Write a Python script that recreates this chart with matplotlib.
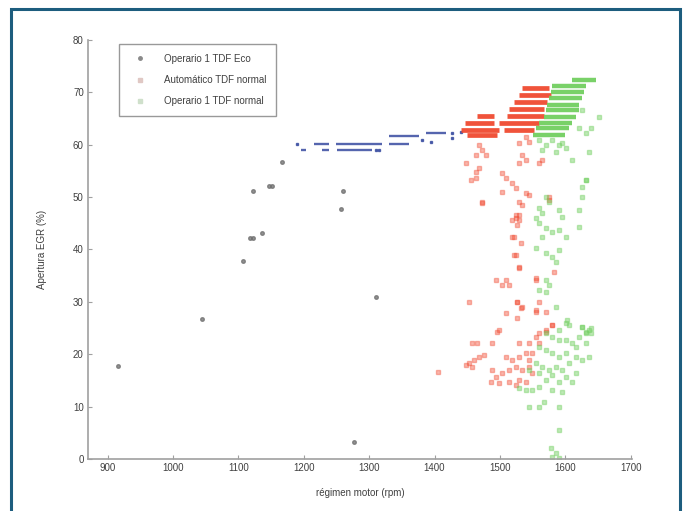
import matplotlib
matplotlib.use('Agg')
import matplotlib.pyplot as plt
from matplotlib.patches import Rectangle
from matplotlib.lines import Line2D

plt.rcParams['font.family'] = ['Liberation Sans', 'DejaVu Sans']

labels = ['Operario 1 TDF Eco', 'Automático TDF normal', 'Operario 1 TDF normal']

# isolated points of the Eco run (grey)
gray_x = [1167, 1147, 1152, 1122, 1260, 1257, 1136, 1118, 1122, 1107, 1310, 1045, 916, 1277]
gray_y = [56.6, 52.1, 52.1, 51.1, 51.1, 47.8, 43.2, 42.1, 42.1, 37.8, 31.0, 26.7, 17.7, 3.2]

# dense Eco streaks (blue): level, start rpm, end rpm
eco_row_y = [62.2, 61.6, 60.1, 60.1, 60.1, 59.0, 59.0, 59.0]
eco_row_x0 = [1387, 1331, 1216, 1250, 1331, 1228, 1251, 1196]
eco_row_x1 = [1418, 1376, 1239, 1320, 1361, 1239, 1305, 1204]
eco_x = [1190, 1381, 1427, 1427, 1311, 1315, 1440, 1395]
eco_y = [60.1, 60.9, 61.3, 62.2, 59.0, 59.0, 62.5, 60.5]

# Automático TDF normal (red)
auto_row_y = [70.8, 69.5, 68.1, 66.8, 65.5, 65.5, 64.1, 64.1, 62.8, 62.8, 61.8]
auto_row_x0 = [1534, 1529, 1521, 1514, 1465, 1511, 1447, 1498, 1440, 1506, 1450]
auto_row_x1 = [1575, 1578, 1572, 1567, 1491, 1567, 1491, 1560, 1498, 1552, 1495]
auto_x = [1473, 1524, 1529, 1526, 1521, 1524, 1529, 1494, 1509, 1503,
          1514, 1555, 1453, 1526, 1534, 1555, 1509, 1526, 1579, 1495,
          1570, 1457, 1465, 1488, 1529, 1544, 1555, 1560, 1476, 1468,
          1460, 1453, 1448, 1457, 1509, 1518, 1529, 1540, 1549, 1544,
          1488, 1494, 1503, 1514, 1524, 1534, 1544, 1549, 1486, 1498,
          1514, 1529, 1540, 1524,
          1468, 1473, 1463, 1479, 1448, 1468, 1463, 1456, 1463, 1503,
          1509, 1534, 1540, 1529, 1540, 1544, 1529, 1518, 1524, 1503,
          1540, 1544, 1560, 1564, 1473, 1529, 1534, 1575, 1575, 1524,
          1529, 1518,
          1518, 1532, 1521, 1529, 1582, 1555, 1526, 1560, 1532, 1555,
          1570, 1579, 1570, 1560, 1498, 1405]
auto_y = [48.9, 46.6, 45.6, 44.7, 42.4, 38.9, 36.5, 34.2, 34.2, 33.2,
          33.2, 34.2, 30.0, 30.0, 29.0, 28.1, 27.9, 26.9, 25.6, 24.2,
          24.2, 22.1, 22.1, 22.1, 22.1, 22.1, 23.3, 22.1, 19.8, 19.5,
          18.9, 18.3, 17.9, 17.6, 19.5, 18.9, 19.5, 20.2, 20.2, 18.9,
          17.0, 15.6, 16.4, 17.0, 17.6, 17.0, 17.6, 16.4, 14.7, 14.5,
          14.7, 15.1, 14.7, 14.1,
          59.9, 59.0, 58.0, 58.0, 56.5, 55.5, 54.8, 53.2, 53.6, 54.6,
          53.6, 58.0, 57.1, 56.5, 61.5, 60.5, 60.3, 52.7, 51.7, 51.0,
          50.8, 50.4, 56.5, 57.1, 49.0, 49.0, 48.5, 50.0, 49.4, 46.0,
          46.6, 45.6,
          42.4, 41.2, 38.9, 36.6, 35.7, 34.5, 30.0, 30.0, 28.8, 28.4,
          28.1, 25.6, 24.6, 24.0, 24.6, 16.6]

# Operario 1 TDF normal (green)
op_row_y = [72.3, 71.2, 70.0, 68.9, 67.6, 66.6, 65.3, 64.1, 63.2, 61.8]
op_row_x0 = [1610, 1579, 1578, 1575, 1572, 1570, 1567, 1560, 1555, 1550]
op_row_x1 = [1647, 1631, 1628, 1625, 1621, 1621, 1616, 1610, 1605, 1600]
op_x = [1560, 1570, 1579, 1590, 1601, 1564, 1585, 1595, 1631, 1631,
        1625, 1625, 1621, 1590, 1595, 1570, 1575, 1560, 1564, 1555,
        1560, 1570, 1579, 1590, 1601, 1564, 1621,
        1555, 1570, 1579, 1585, 1590, 1570, 1575, 1560, 1570, 1585,
        1602, 1605, 1625, 1640, 1631,
        1570, 1579, 1590, 1601, 1610, 1621, 1631, 1636, 1625, 1601,
        1590, 1616, 1631, 1640,
        1560, 1570, 1579, 1590, 1601, 1616, 1625, 1636,
        1555, 1564, 1575, 1585, 1595, 1605, 1616, 1601, 1579, 1560,
        1544, 1570, 1590, 1610,
        1529, 1540, 1549, 1560, 1579, 1595, 1567, 1544, 1560, 1590,
        1590, 1578, 1585, 1579, 1590,
        1625, 1651, 1639, 1621, 1631, 1610, 1636]
op_y = [60.9, 59.9, 60.9, 59.9, 59.4, 59.0, 58.6, 60.3, 62.2, 53.2,
        51.9, 50.0, 47.5, 47.5, 46.2, 50.0, 49.0, 47.9, 46.9, 46.0,
        45.0, 44.1, 43.3, 43.7, 42.4, 42.4, 44.3,
        40.3, 39.3, 38.5, 37.6, 39.9, 34.2, 33.2, 32.3, 31.9, 29.0,
        26.5, 25.6, 25.2, 25.0, 24.2,
        24.0, 23.3, 22.7, 22.7, 22.1, 23.3, 24.0, 24.6, 25.2, 26.0,
        24.6, 21.4, 22.1, 24.0,
        21.4, 20.8, 20.2, 19.5, 20.2, 19.5, 18.9, 19.5,
        18.3, 17.6, 17.0, 17.6, 17.0, 18.3, 16.4, 15.6, 16.0, 16.4,
        17.0, 15.1, 14.7, 14.7,
        13.5, 13.2, 13.2, 13.7, 13.2, 12.8, 10.9, 9.9, 9.9, 9.9,
        5.5, 2.1, 1.1, 0.4, 0.2,
        66.6, 65.3, 63.2, 63.2, 53.2, 57.0, 58.6]

x_ticks = [900, 1000, 1100, 1200, 1300, 1400, 1500, 1600, 1700]
y_ticks = [0, 10, 20, 30, 40, 50, 60, 70, 80]

fig = plt.figure(figsize=(6.87, 5.11), dpi=100)
ax = fig.add_axes([0.128, 0.102, 0.792, 0.82])

red = '#f04a30'
green = '#72cf60'
blue = '#2a3f9a'

# streaks
ax.hlines(eco_row_y, eco_row_x0, eco_row_x1, colors=blue, linewidth=1.7, alpha=0.8)
ax.plot(eco_x, eco_y, 's', color=blue, markersize=1.8, alpha=0.75, linestyle='none')
ax.hlines(auto_row_y, auto_row_x0, auto_row_x1, colors=red, linewidth=3.4, alpha=0.95)
ax.plot(auto_x, auto_y, 's', color=red, markersize=2.6, alpha=0.4, linestyle='none')
ax.hlines(op_row_y, op_row_x0, op_row_x1, colors=green, linewidth=3.2, alpha=0.95)
ax.plot(op_x, op_y, 's', color=green, markersize=2.6, alpha=0.45, linestyle='none')
ax.plot(gray_x, gray_y, 'o', color='#6e6e6e', markersize=2.6, alpha=0.75, linestyle='none')

ax.set_xlim(870, 1702)
ax.set_ylim(0, 80)
ax.set_xticks(x_ticks)
ax.set_yticks(y_ticks)
for s in ['top', 'right']:
    ax.spines[s].set_visible(False)
for s in ['left', 'bottom']:
    ax.spines[s].set_color('#a0a0a0')
    ax.spines[s].set_linewidth(1.2)
ax.tick_params(direction='in', length=3, color='#a0a0a0', labelsize=7, labelcolor='#404040', pad=3)
ax.set_xlabel('régimen motor (rpm)', fontsize=7, color='#404040', labelpad=11)
ax.set_ylabel('Apertura EGR (%)', fontsize=7, color='#404040', labelpad=19)

handles = [Line2D([], [], marker='o', color='#8a8a8a', linestyle='none', markersize=2.5),
           Line2D([], [], marker='s', color='#e0c8c4', linestyle='none', markersize=3),
           Line2D([], [], marker='s', color='#cfe0cb', linestyle='none', markersize=3)]
leg = ax.legend(handles, labels, loc='upper left', bbox_to_anchor=(0.058, 0.99),
                fontsize=7, frameon=True, fancybox=False, borderpad=1.0,
                labelspacing=1.15, handletextpad=1.4, handlelength=2.2, borderaxespad=0)
leg.get_frame().set_edgecolor('#808080')
leg.get_frame().set_linewidth(1.0)
for t in leg.get_texts():
    t.set_color('#404040')

# outer frame of the printed figure
fig.add_artist(Rectangle((11 / 687, -0.05), (680 - 11) / 687, 1.05 - 9.5 / 511,
                         transform=fig.transFigure, fill=False,
                         edgecolor='#1d5d7e', linewidth=2.2))

fig.savefig('out.png', dpi=100)
